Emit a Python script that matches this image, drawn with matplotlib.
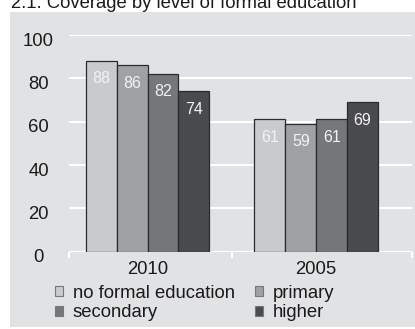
import matplotlib.pyplot as plt
import matplotlib.transforms as mtransforms
from matplotlib.patches import Rectangle
import numpy as np

plt.rcParams['font.family'] = ['Liberation Sans', 'DejaVu Sans']

# coverage (%) by level of formal education
years = ['2010', '2005']
levels = ['no formal education', 'primary', 'secondary', 'higher']
values = {
    'no formal education': [88, 61],
    'primary': [86, 59],
    'secondary': [82, 61],
    'higher': [74, 69],
}
colors = ['#c9cacc', '#a0a1a4', '#767779', '#4a4b4d']
yticks = [0, 20, 40, 60, 80, 100]

fig = plt.figure(figsize=(4.15, 3.29), dpi=100)
fig.patch.set_facecolor('white')
fig.patches.append(Rectangle((10 / 415, 2 / 329), 405 / 415, 315 / 329,
                             transform=fig.transFigure, facecolor='#e1e2e4',
                             edgecolor='none', zorder=-1))
fig.text(11 / 415, 1 - 8 / 329, '2.1. Coverage by level of formal education',
         fontsize=13.3, color='#1a1a1a', ha='left', va='baseline')

ax = fig.add_axes([69 / 415, 1 - 251.5 / 329, (412 - 69) / 415, (251.5 - 35) / 329])
ax.set_facecolor('none')

x = np.arange(len(years))
w = 0.183
bars = []
for i, lev in enumerate(levels):
    b = ax.bar(x + (i - 1.5) * w, values[lev], width=w, color=colors[i],
               edgecolor='#2b2b2b', linewidth=0.9, zorder=3, label=lev)
    bars.append(b)
    for xi, v in zip(x + (i - 1.5) * w, values[lev]):
        ax.annotate(str(v), xy=(xi, v), xytext=(0, -18), textcoords='offset pixels',
                    ha='center', va='center', fontsize=11.5, color='#f2f2f2', zorder=4)

ax.set_ylim(0, 100)
ax.set_xlim(-0.466, 1.568)
ax.set_yticks(yticks)
ax.grid(axis='y', color='white', linewidth=1.5, zorder=1)
ax.set_axisbelow(True)
for s in ax.spines.values():
    s.set_visible(False)

ax.tick_params(axis='y', length=0, pad=22, labelsize=13.3, labelcolor='#1a1a1a')
shift = mtransforms.ScaledTranslation(0, -4.3 / 100, fig.dpi_scale_trans)
for lbl in ax.get_yticklabels():
    lbl.set_ha('center')
    lbl.set_transform(lbl.get_transform() + shift)

ax.set_xticks(x)
ax.set_xticklabels(years)
ax.tick_params(axis='x', which='major', length=0, pad=7, labelsize=13.3, labelcolor='#1a1a1a')
ax.set_xticks([-0.466, 0.5, 1.568], minor=True)
ax.tick_params(axis='x', which='minor', direction='out', length=4.3, width=1.5,
               color='white')

# legend filled row by row
order = [0, 2, 1, 3]
leg = fig.legend([bars[k] for k in order], [levels[k] for k in order],
                 loc='upper left', bbox_to_anchor=(55 / 415, 1 - 285 / 329),
                 ncol=2, frameon=False, fontsize=13.3, borderpad=0,
                 borderaxespad=0, handlelength=0.45, handleheight=0.45,
                 handletextpad=0.5, columnspacing=1.1, labelspacing=0.12)
for h, k in zip(leg.legend_handles, order):
    h.set_edgecolor('#777777')
    h.set_linewidth(0.8)
for t in leg.get_texts():
    t.set_color('#1a1a1a')

fig.savefig('out.png', dpi=100)
